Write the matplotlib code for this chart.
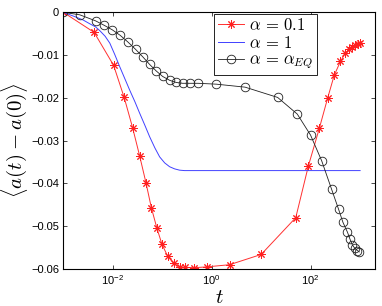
import numpy as np
import matplotlib
matplotlib.use('Agg')
import matplotlib.pyplot as plt
from matplotlib.font_manager import FontProperties
from matplotlib.ticker import FixedLocator, NullLocator, FuncFormatter

plt.rcParams['font.family'] = ['Liberation Sans', 'DejaVu Sans']
plt.rcParams['mathtext.fontset'] = 'custom'
plt.rcParams['mathtext.rm'] = 'Liberation Sans'
plt.rcParams['mathtext.it'] = 'Liberation Sans:italic'

# alpha = 0.1 (red, asterisks)
t_red = [0.001, 0.0042, 0.0104, 0.0170, 0.0252, 0.035, 0.0468, 0.0603, 0.0782,
         0.0986, 0.1285, 0.170, 0.224, 0.295, 0.447, 0.794, 2.29, 10, 50, 90,
         150, 220, 300, 400, 500, 600, 700, 800, 900, 1000]
a_red = [0.0, -0.0047, -0.0124, -0.0199, -0.0270, -0.0336, -0.0398, -0.0457,
         -0.0505, -0.0542, -0.0570, -0.0587, -0.0595, -0.0596, -0.0597, -0.0595,
         -0.0590, -0.0566, -0.0480, -0.0359, -0.0271, -0.0201, -0.0147, -0.0115,
         -0.0096, -0.0086, -0.0080, -0.0076, -0.0074, -0.0072]

# alpha = 1 (blue, line only)
t_blue = [0.001, 0.00178, 0.00251, 0.00344, 0.00447, 0.00547, 0.0070, 0.0087,
          0.0110, 0.0138, 0.0175, 0.0220, 0.0280, 0.0350, 0.0445, 0.0557,
          0.0710, 0.0887, 0.112, 0.141, 0.178, 0.224, 0.282, 0.356, 1.0, 10,
          100, 1000]
a_blue = [0.0, -0.0011, -0.0018, -0.0027, -0.0034, -0.0043, -0.0056, -0.0072,
          -0.0099, -0.0127, -0.0155, -0.0182, -0.0209, -0.0236, -0.0264,
          -0.0291, -0.0317, -0.0338, -0.0352, -0.0361, -0.0366, -0.0369,
          -0.0370, -0.0370, -0.0370, -0.0370, -0.0370, -0.0370]

# alpha = alpha_EQ (black, open circles)
t_eq = [0.001, 0.00216, 0.00448, 0.00659, 0.00977, 0.01416, 0.0200, 0.0291,
        0.0403, 0.0557, 0.0753, 0.102, 0.141, 0.1905, 0.258, 0.356, 0.530,
        1.233, 4.73, 21.5, 53.7, 99.5, 167, 264, 366, 450, 555, 628, 700, 785,
        883, 964]
a_eq = [0.0, -0.0006, -0.0020, -0.0030, -0.0041, -0.0054, -0.0069, -0.0087,
        -0.0104, -0.0122, -0.0137, -0.0150, -0.0159, -0.0164, -0.0166, -0.0166,
        -0.0166, -0.0168, -0.0175, -0.0199, -0.0238, -0.0287, -0.0347, -0.0413,
        -0.0460, -0.0491, -0.0514, -0.0531, -0.0544, -0.0552, -0.0557, -0.0560]

x_ticks = [1e-2, 1e0, 1e2]
x_tick_labels = [r'$10^{-2}$', r'$10^{0}$', r'$10^{2}$']
y_ticks = [0, -0.01, -0.02, -0.03, -0.04, -0.05, -0.06]

fig = plt.figure(figsize=(3.82, 3.06), dpi=100)
ax = fig.add_axes([0.1657, 0.1209, 0.816, 0.839])

asterisk = (8, 2, 0)
ax.plot(t_red, a_red, color='#ff3030', lw=0.7, marker=asterisk, ms=6,
        mew=0.7, mec='#ff2020', label=r'$\alpha\,=\,0.1$')
ax.plot(t_blue, a_blue, color='#4040ff', lw=0.7, label=r'$\alpha\,=\,1$')
ax.plot(t_eq, a_eq, color='#202020', lw=0.6, marker='o', ms=6.2, mfc='none',
        mew=0.6, mec='#202020', label=r'$\alpha\,=\,\alpha_{EQ}$')

ax.set_xscale('log')
ax.set_xlim(1e-3, 2e3)
ax.set_ylim(-0.06, 0)
ax.xaxis.set_major_locator(FixedLocator(x_ticks))
ax.xaxis.set_minor_locator(NullLocator())
ax.set_xticklabels(x_tick_labels)
ax.set_yticks(y_ticks)
ax.yaxis.set_major_formatter(FuncFormatter(
    lambda v, p: '0' if v == 0 else ('%g' % v).replace('-', '\u2212')))

ax.tick_params(direction='in', length=3, width=0.5, labelsize=8,
               top=True, right=True, pad=3)
for s in ax.spines.values():
    s.set_linewidth(0.8)

cm = FontProperties(size=12, math_fontfamily='cm')
ax.set_xlabel(r'$t$', fontproperties=FontProperties(size=15, math_fontfamily='cm'),
              labelpad=1)
ax.set_ylabel(r'$\langle a(t) - a(0)\rangle$',
              fontproperties=FontProperties(size=15, math_fontfamily='cm'),
              labelpad=1)

leg = ax.legend(loc='upper left', bbox_to_anchor=(0.4845, 0.9934),
                borderaxespad=0, prop=cm, fancybox=False, framealpha=1,
                edgecolor='black', handlelength=1.6, handletextpad=0.3,
                labelspacing=0.1, borderpad=0.2)
leg.get_frame().set_linewidth(0.6)

fig.savefig('out.png', dpi=100)
